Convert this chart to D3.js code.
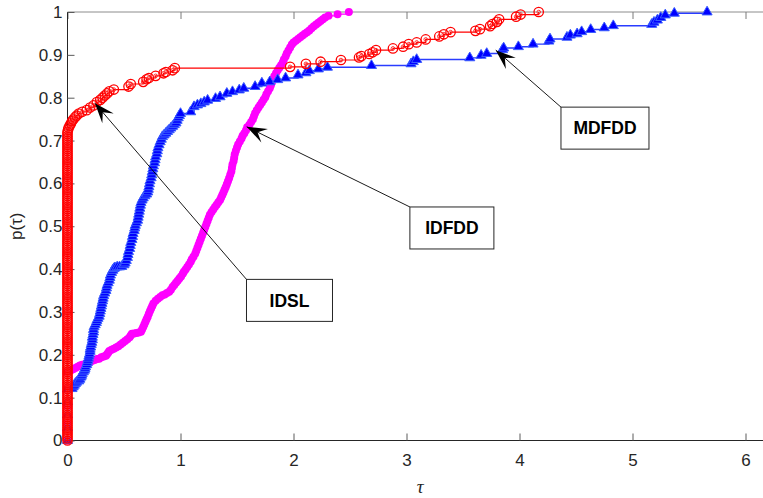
<!DOCTYPE html>
<meta charset="utf-8">
<style>
body { margin: 0; background: #fff; }
svg { display: block; }
.tick-label { font-family: "Liberation Sans", Arial, sans-serif; font-size: 17px; fill: #262626; }
.anno text { font-family: "Liberation Sans", Arial, sans-serif; font-size: 17.5px; font-weight: bold; fill: #000; }
</style>
<body>
<svg width="763" height="498"></svg>
<script src="https://cdn.jsdelivr.net/npm/d3@7"></script>
<script>

// ---- data (tau, p) ----
// IDSL : red circles, vertical run at tau = 0 first
var idslZeroP = [0,0.005,0.01,0.015,0.02,0.025,0.03,0.035,0.04,0.045,0.05,0.055,0.06,0.065,0.07,0.075,0.08,0.085,0.09,0.095,
  0.10,0.105,0.11,0.115,0.12,0.125,0.13,0.135,0.14,0.145,0.15,0.155,0.16,0.165,0.17,0.175,0.18,0.185,0.19,0.195,
  0.20,0.205,0.21,0.215,0.22,0.225,0.23,0.235,0.24,0.245,0.25,0.255,0.26,0.265,0.27,0.275,0.28,0.285,0.29,0.295,
  0.30,0.305,0.31,0.315,0.32,0.325,0.33,0.335,0.34,0.345,0.35,0.355,0.36,0.365,0.37,0.375,0.38,0.385,0.39,0.395,
  0.40,0.405,0.41,0.415,0.42,0.425,0.43,0.435,0.44,0.445,0.45,0.455,0.46,0.465,0.47,0.475,0.48,0.485,0.49,0.495,
  0.50,0.505,0.51,0.515,0.52,0.525,0.53,0.535,0.54,0.545,0.55,0.555,0.56,0.565,0.57,0.575,0.58,0.585,0.59,0.595,
  0.60,0.605,0.61,0.615,0.62,0.625,0.63,0.635,0.64,0.645,0.65,0.655,0.66,0.665,0.67,0.675,0.68,0.685,0.69,0.695,
  0.70,0.705,0.71,0.715,0.72];
var idslTau = [0.005,0.01,0.02,0.03,0.04,0.05,0.065,0.08,0.10,0.13,0.17,0.20,0.23,0.26,0.29,0.31,0.33,0.35,0.37,0.41,0.54,0.56,0.67,0.70,0.72,0.78,0.85,0.87,0.93,0.95,
  1.97,2.11,2.24,2.42,2.58,2.60,2.67,2.70,2.73,2.88,2.97,3.02,3.09,3.17,3.29,3.33,3.39,3.61,3.65,3.74,3.76,3.80,3.82,3.97,4.01,4.17];
var idslP = [0.725,0.730,0.735,0.740,0.745,0.749,0.754,0.758,0.763,0.767,0.771,0.777,0.782,0.790,0.795,0.800,0.805,0.810,0.815,0.819,0.826,0.832,0.837,0.843,0.846,0.851,0.857,0.860,0.864,0.869,
  0.872,0.879,0.884,0.888,0.894,0.897,0.902,0.906,0.911,0.915,0.919,0.925,0.929,0.936,0.943,0.948,0.953,0.956,0.960,0.967,0.972,0.977,0.983,0.989,0.994,1.0];

// MDFDD : blue triangles
var mdfddZeroP = [0,0.03,0.06,0.09,0.12];
var mdfddTau = [0.04,0.05,0.06,0.07,0.08,0.10,0.11,0.12,0.125,0.13,0.14,0.15,0.155,0.16,0.17,0.175,0.18,0.185,0.19,0.195,0.20,0.20,0.205,0.21,0.215,0.22,0.22,0.225,0.23,0.23,
  0.235,0.245,0.255,0.26,0.27,0.28,0.285,0.29,0.295,0.30,0.305,0.31,0.315,0.32,0.33,0.34,0.345,0.35,0.36,0.37,0.375,0.38,0.39,0.40,0.41,0.42,0.44,0.46,0.48,0.50,
  0.51,0.52,0.53,0.535,0.54,0.55,0.555,0.56,0.57,0.575,0.58,0.59,0.595,0.60,0.61,0.62,0.625,0.63,0.635,0.64,0.645,0.65,0.66,0.67,0.685,0.70,0.71,0.715,0.72,0.725,
  0.73,0.74,0.745,0.75,0.755,0.76,0.77,0.775,0.78,0.79,0.795,0.80,0.81,0.82,0.83,0.84,0.855,0.87,0.885,0.90,0.915,0.93,0.945,0.96,0.97,0.98,0.99,1.00,
  1.09,1.12,1.15,1.18,1.21,1.24,1.31,1.35,1.41,1.46,1.52,1.56,1.66,1.72,1.79,1.86,1.93,2.04,2.11,2.14,2.22,2.30,2.69,3.04,3.06,3.09,3.56,3.66,3.71,3.85,3.86,3.99,
  4.12,4.26,4.27,4.42,4.45,4.51,4.55,4.63,4.75,4.83,5.17,5.19,5.22,5.25,5.29,5.37,5.66];
var mdfddP = [0.121,0.125,0.129,0.133,0.136,0.139,0.143,0.148,0.152,0.156,0.160,0.164,0.168,0.172,0.177,0.182,0.187,0.192,0.197,0.202,0.208,0.213,0.218,0.224,0.229,0.235,0.241,0.247,0.253,0.259,
  0.265,0.270,0.275,0.280,0.285,0.290,0.296,0.302,0.308,0.314,0.320,0.326,0.332,0.338,0.344,0.350,0.356,0.362,0.368,0.374,0.380,0.386,0.392,0.397,0.401,0.403,0.405,0.405,0.406,0.410,
  0.414,0.420,0.427,0.434,0.441,0.448,0.455,0.462,0.469,0.476,0.483,0.490,0.496,0.502,0.508,0.514,0.521,0.528,0.535,0.542,0.549,0.555,0.561,0.566,0.571,0.575,0.580,0.586,0.592,0.599,
  0.606,0.613,0.620,0.627,0.634,0.641,0.648,0.655,0.662,0.669,0.676,0.683,0.690,0.697,0.703,0.709,0.713,0.717,0.721,0.725,0.729,0.733,0.737,0.741,0.747,0.753,0.758,0.763,
  0.767,0.779,0.783,0.786,0.790,0.794,0.798,0.802,0.810,0.814,0.818,0.822,0.826,0.834,0.837,0.842,0.846,0.853,0.858,0.863,0.867,0.871,0.875,0.879,0.884,0.889,0.893,0.899,0.903,0.912,0.916,0.919,
  0.925,0.932,0.937,0.941,0.946,0.949,0.954,0.959,0.963,0.968,0.971,0.976,0.981,0.987,0.993,0.997,1.0];

// IDFDD : magenta dots
var idfddZeroP = [0,0.04,0.08,0.12,0.16];
var idfddTau = [0.03,0.05,0.07,0.09,0.11,0.13,0.16,0.18,0.20,0.22,0.24,0.26,0.28,0.30,0.32,0.34,0.35,0.36,0.37,0.39,0.41,0.43,0.45,0.47,0.49,0.51,0.53,0.55,0.56,0.57,
  0.59,0.61,0.63,0.65,0.66,0.67,0.68,0.69,0.70,0.71,0.72,0.73,0.74,0.75,0.76,0.78,0.80,0.82,0.84,0.86,0.88,0.90,0.915,0.93,0.945,0.96,0.975,0.99,1.005,1.02,
  1.03,1.045,1.06,1.075,1.09,1.10,1.115,1.13,1.14,1.15,1.16,1.17,1.18,1.19,1.20,1.21,1.22,1.23,1.24,1.25,1.26,1.275,1.29,1.305,1.32,1.335,1.35,1.36,1.37,1.38,
  1.39,1.40,1.41,1.42,1.43,1.44,1.45,1.455,1.46,1.47,1.475,1.48,1.49,1.50,1.51,1.525,1.54,1.55,1.565,1.58,1.59,1.61,1.625,1.64,1.65,1.66,1.675,1.69,1.705,1.72,
  1.735,1.75,1.76,1.775,1.79,1.80,1.81,1.82,1.83,1.845,1.86,1.875,1.89,1.905,1.915,1.93,1.94,1.955,1.97,1.985,2.00,2.02,2.04,2.06,2.08,2.10,2.12,2.14,2.16,2.18,
  2.20,2.22,2.24,2.26,2.28,2.31,2.39,2.49];
var idfddP = [0.164,0.166,0.169,0.172,0.175,0.177,0.179,0.181,0.183,0.186,0.188,0.190,0.191,0.194,0.196,0.198,0.201,0.205,0.209,0.212,0.214,0.217,0.220,0.224,0.228,0.232,0.236,0.241,0.245,0.249,
  0.250,0.251,0.252,0.254,0.259,0.265,0.271,0.277,0.283,0.289,0.296,0.302,0.308,0.314,0.320,0.326,0.331,0.335,0.339,0.341,0.344,0.347,0.352,0.358,0.363,0.368,0.373,0.378,0.383,0.389,
  0.394,0.399,0.405,0.411,0.417,0.423,0.429,0.436,0.443,0.450,0.457,0.464,0.471,0.478,0.485,0.492,0.499,0.506,0.513,0.520,0.527,0.533,0.539,0.545,0.550,0.556,0.561,0.567,0.573,0.579,
  0.585,0.591,0.598,0.605,0.612,0.620,0.628,0.636,0.644,0.652,0.660,0.668,0.676,0.684,0.691,0.698,0.705,0.711,0.717,0.724,0.731,0.737,0.743,0.750,0.757,0.764,0.771,0.777,0.783,0.789,
  0.795,0.801,0.808,0.815,0.822,0.829,0.836,0.843,0.850,0.857,0.864,0.870,0.876,0.882,0.889,0.896,0.903,0.910,0.917,0.924,0.929,0.933,0.937,0.941,0.945,0.949,0.953,0.957,0.962,0.967,
  0.971,0.975,0.979,0.983,0.987,0.991,0.995,1.0];

var xTicks = [0,1,2,3,4,5,6];
var yTicks = [0,0.1,0.2,0.3,0.4,0.5,0.6,0.7,0.8,0.9,1];

// annotations: label, arrow tip (tau, p), box top-left (tau, p)
var annoLabels = ["IDSL", "IDFDD", "MDFDD"];
var annoTipTau = [0.243, 1.586, 3.79];
var annoTipP   = [0.787, 0.732, 0.911];
var annoBoxTau = [1.584, 3.03, 4.367];
var annoBoxP   = [0.376, 0.545, 0.778];
var annoBoxW   = [86, 84, 88];

// ---- layout ----
var svg = d3.select("svg");
var x = d3.scaleLinear().domain([0, 6.2]).range([67.5, 67.5 + 6.2 * 113]);
var y = d3.scaleLinear().domain([0, 1]).range([440.5, 12]);

function pts(zeroP, tau, p) {
  var out = zeroP.map(function(v) { return [0, v]; });
  tau.forEach(function(t, i) { out.push([t, p[i]]); });
  return out;
}
var idsl = pts(idslZeroP, idslTau, idslP),
    mdfdd = pts(mdfddZeroP, mdfddTau, mdfddP),
    idfdd = pts(idfddZeroP, idfddTau, idfddP);

// axes box: top line grey, left/bottom dark
svg.append("line").attr("x1", x(0)).attr("x2", 763).attr("y1", y(1)).attr("y2", y(1))
   .attr("stroke", "#8c8c8c").attr("stroke-width", 1);

var xAxisB = d3.axisBottom(x).tickValues(xTicks).tickSize(-7).tickPadding(13).tickFormat(d3.format("d"));
var gx = svg.append("g").attr("transform", "translate(0," + y(0) + ")").call(xAxisB);
gx.select(".domain").attr("d", "M" + x(0) + ",0H763").attr("stroke", "#262626");
gx.selectAll(".tick line").attr("stroke", "#5a5a5a");
gx.selectAll("text").attr("class", "tick-label").attr("fill", null);

var xAxisT = d3.axisTop(x).tickValues(xTicks).tickSize(-7).tickFormat("");
var gxt = svg.append("g").attr("transform", "translate(0," + y(1) + ")").call(xAxisT);
gxt.select(".domain").remove();
gxt.selectAll(".tick line").attr("stroke", "#7a7a7a");

var yAxis = d3.axisLeft(y).tickValues(yTicks).tickSize(-7).tickPadding(5).tickFormat(function(d) { return d3.format("")(+d.toFixed(1)); });
var gy = svg.append("g").attr("transform", "translate(" + x(0) + ",0)").call(yAxis);
gy.select(".domain").attr("d", "M0," + y(1) + "V" + y(0)).attr("stroke", "#262626");
gy.selectAll(".tick line").attr("stroke", "#5a5a5a");
gy.selectAll("text").attr("class", "tick-label").attr("fill", null);

// axis labels
svg.append("text").attr("x", x(3.12)).attr("y", 493)
   .attr("text-anchor", "middle")
   .style("font-family", "'Liberation Serif', serif").style("font-style", "italic").style("font-size", "19px").style("fill", "#262626")
   .text("τ");
svg.append("text").attr("transform", "translate(22," + y(0.5) + ") rotate(-90)")
   .attr("text-anchor", "middle")
   .style("font-family", "'Liberation Sans', Arial, sans-serif").style("font-size", "17px").style("fill", "#262626")
   .text("p(τ)");

// ---- series ----
var line = d3.line().curve(d3.curveStepAfter)
  .x(function(d) { return x(d[0]); })
  .y(function(d) { return y(d[1]); });

// IDFDD magenta
svg.append("path").datum(idfdd).attr("d", line).attr("fill", "none").attr("stroke", "#ff00ff").attr("stroke-width", 1.2);
svg.append("g").selectAll("circle").data(idfdd).enter().append("circle")
   .attr("cx", function(d) { return x(d[0]); }).attr("cy", function(d) { return y(d[1]); })
   .attr("r", 4).attr("fill", "#ff00ff");

// MDFDD blue
svg.append("path").datum(mdfdd).attr("d", line).attr("fill", "none").attr("stroke", "#2a3cff").attr("stroke-width", 1.4);
var tri = d3.symbol().type(d3.symbolTriangle).size(44);
svg.append("g").selectAll("path").data(mdfdd).enter().append("path")
   .attr("d", tri)
   .attr("transform", function(d) { return "translate(" + x(d[0]) + "," + y(d[1]) + ")"; })
   .attr("fill", "#0000ff").attr("stroke", "#3a5cff").attr("stroke-width", 1);

// IDSL red
svg.append("path").datum(idsl).attr("d", line).attr("fill", "none").attr("stroke", "#ff0000").attr("stroke-width", 1.2);
var rc = svg.append("g").selectAll("g").data(idsl).enter().append("g")
   .attr("transform", function(d) { return "translate(" + x(d[0]) + "," + y(d[1]) + ")"; });
rc.append("circle").attr("r", 4.7).attr("fill", "none").attr("stroke", "#ff0000").attr("stroke-width", 1.3);
rc.append("circle").attr("r", 1.8).attr("fill", "none").attr("stroke", "#ff3030").attr("stroke-width", 1);

// ---- annotations ----
annoLabels.forEach(function(lab, i) {
  var tx = x(annoTipTau[i]), ty = y(annoTipP[i]);
  var bx = x(annoBoxTau[i]), by = y(annoBoxP[i]);
  var g = svg.append("g").attr("class", "anno");
  g.append("line").attr("x1", bx).attr("y1", by).attr("x2", tx).attr("y2", ty)
   .attr("stroke", "#000").attr("stroke-width", 0.9);
  // arrow head (notched)
  var dx = tx - bx, dy = ty - by, len = Math.sqrt(dx * dx + dy * dy);
  var ux = dx / len, uy = dy / len, nx = -uy, ny = ux;
  var L = 20, W = 15;
  var head = [
    [tx, ty],
    [tx - L * ux + W / 2 * nx, ty - L * uy + W / 2 * ny],
    [tx - 0.6 * L * ux, ty - 0.6 * L * uy],
    [tx - L * ux - W / 2 * nx, ty - L * uy - W / 2 * ny]
  ];
  g.append("path").attr("d", "M" + head.join("L") + "Z").attr("fill", "#000");
  g.append("rect").attr("x", bx).attr("y", by).attr("width", annoBoxW[i]).attr("height", 42)
   .attr("fill", "#fff").attr("stroke", "#262626").attr("stroke-width", 1);
  g.append("text").attr("x", bx + annoBoxW[i] / 2).attr("y", by + 21).attr("dy", "0.36em")
   .attr("text-anchor", "middle").text(lab);
});

</script>
</body>
